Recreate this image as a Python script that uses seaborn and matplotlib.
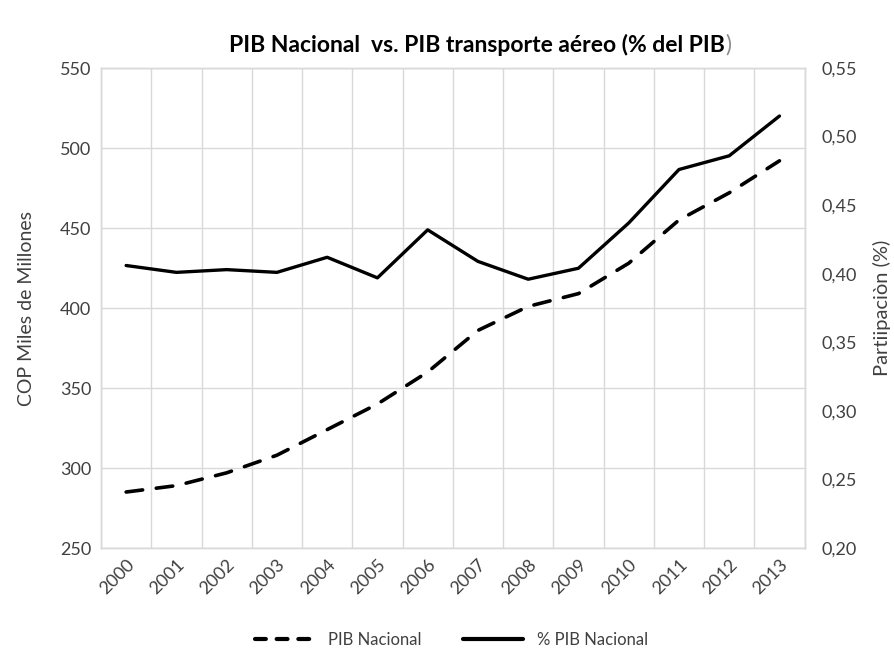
import pandas as pd
import seaborn as sns
import matplotlib.pyplot as plt
from matplotlib.lines import Line2D
from matplotlib.ticker import FixedLocator, FuncFormatter

# Datos
years = ['2000', '2001', '2002', '2003', '2004', '2005', '2006',
         '2007', '2008', '2009', '2010', '2011', '2012', '2013']
pib_nacional = [285, 289, 297, 308, 324, 340, 360, 386, 401, 409, 428, 455, 472, 492]
pct_pib = [0.406, 0.401, 0.403, 0.401, 0.412, 0.397, 0.432, 0.409, 0.396, 0.404,
           0.437, 0.476, 0.486, 0.515]

df = pd.DataFrame({'year': years, 'pib': pib_nacional, 'pct': pct_pib})

sns.set_theme(style='white')
plt.rcParams['font.family'] = ['Lato', 'DejaVu Sans']

grid_c = '#d9d9d9'
text_c = '#404040'

fig = plt.figure(figsize=(8.94, 6.56), dpi=100)
ax = fig.add_axes([0.113, 0.1646, 0.787, 0.7317])

sns.lineplot(data=df, x='year', y='pib', ax=ax, color='black', linewidth=2.6,
             sort=False)
ax.lines[0].set_dashes((4.6, 3.8))
ax.lines[0].set_dash_capstyle('round')

ax2 = ax.twinx()
sns.lineplot(data=df, x='year', y='pct', ax=ax2, color='black', linewidth=2.4,
             sort=False)

# Ejes
ax.set_xlim(-0.5, len(years) - 0.5)
ax.set_ylim(250, 550)
ax.set_yticks(range(250, 551, 50))
ax2.set_ylim(0.20, 0.55)
ax2.set_yticks([0.20, 0.25, 0.30, 0.35, 0.40, 0.45, 0.50, 0.55])
ax2.yaxis.set_major_formatter(FuncFormatter(lambda v, p: f'{v:.2f}'.replace('.', ',')))

ax.set_xticks(range(len(years)))
ax.set_xticklabels(years, rotation=45, ha='right', rotation_mode='anchor')
ax.xaxis.set_minor_locator(FixedLocator([i - 0.5 for i in range(len(years) + 1)]))
ax.grid(False)
ax.grid(True, which='minor', axis='x', color=grid_c, linewidth=1)
ax.grid(True, which='major', axis='y', color=grid_c, linewidth=1)
ax.set_axisbelow(True)
ax2.grid(False)

for a in (ax, ax2):
    for s in a.spines.values():
        s.set_color(grid_c)
        s.set_linewidth(1)
    a.tick_params(which='both', length=0, labelsize=13, colors=text_c, pad=7)

ax.tick_params(axis='x', pad=6)
ax2.tick_params(axis='y', pad=12)
ax.set_xlabel('')
ax.set_ylabel('COP Miles de Millones', fontsize=14, color=text_c, labelpad=18)
ax2.set_ylabel('Partiipaciòn (%)', fontsize=14.5, color=text_c, labelpad=12)

# Título (el paréntesis final aparece en gris en el original)
fig.text(0.811, 0.931, 'PIB Nacional  vs. PIB transporte aéreo (% del PIB',
         ha='right', va='center', fontsize=16.5, fontweight='bold', color='black')
fig.text(0.811, 0.931, ')', ha='left', va='center', fontsize=16.5, color='#8c8c8c')

# Leyenda
handles = [
    Line2D([], [], color='black', linewidth=3, dashes=(2.6, 2.6), dash_capstyle='round'),
    Line2D([], [], color='black', linewidth=3),
]
fig.legend(handles, ['PIB Nacional', '% PIB Nacional'], loc='center',
           bbox_to_anchor=(0.505, 0.025), ncol=2, frameon=False, fontsize=12,
           handlelength=3.6, columnspacing=2.5, labelcolor=text_c)

plt.savefig('out.png', dpi=100)
